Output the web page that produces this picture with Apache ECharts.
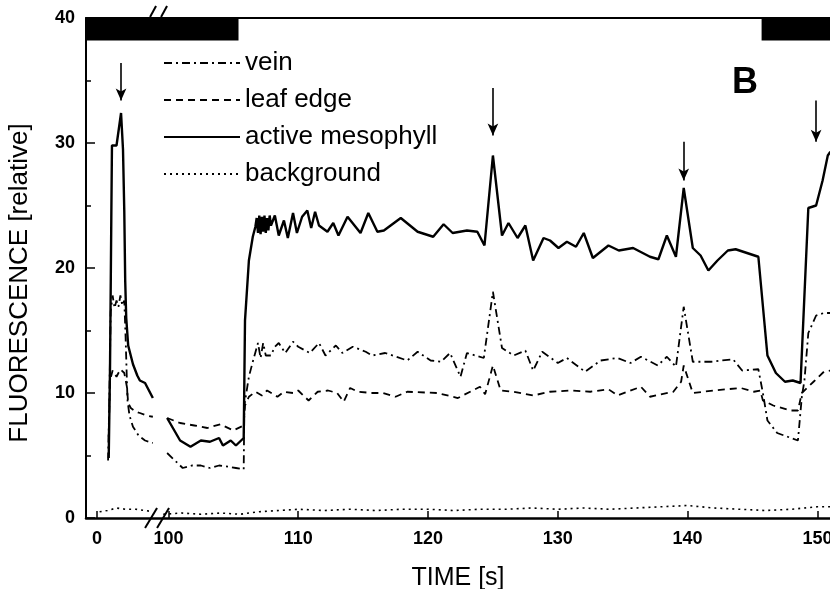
<!DOCTYPE html>
<html>
<head>
<meta charset="utf-8">
<script src="https://cdn.jsdelivr.net/npm/echarts@6/dist/echarts.min.js"></script>
<style>
  html, body { margin: 0; background: #fff; }
  #chart { width: 830px; height: 589px; }
</style>
</head>
<body>
<div id="chart"></div>
<script>
// [time s, fluorescence] - block A is the first seconds, block B is 100-151 s (axis is broken between)
const veinA = [[0.85,4.6],[0.95,9.5],[1.05,16.5],[1.2,17.8],[1.35,16.8],[1.5,17.4],[1.65,16.9],[1.8,17.8],[1.95,17.0],[2.1,17.4],[2.2,14.5],[2.3,11.0],[2.35,9.4],[2.5,8.2],[2.77,7.3],[3.2,6.6],[3.7,6.2],[4.3,6.0]];
const leafA = [[0.9,6.5],[1.0,11.0],[1.2,11.8],[1.5,11.3],[1.8,11.9],[2.1,11.6],[2.3,10.5],[2.4,9.2],[2.6,8.8],[3.0,8.5],[3.3,8.4],[3.8,8.2],[4.3,8.1]];
const activeA = [[0.9,4.8],[1.0,12.0],[1.1,24.0],[1.15,29.8],[1.5,29.8],[1.85,32.4],[2.0,29.5],[2.1,24.5],[2.17,19.0],[2.25,16.0],[2.4,13.8],[2.77,12.3],[3.1,11.4],[3.3,11.0],[3.7,10.8],[4.0,10.2],[4.3,9.6]];
const bgA = [[0.2,0.5],[0.8,0.6],[1.5,0.8],[2.2,0.7],[3.0,0.7],[3.7,0.6],[4.3,0.5]];

const activeB = [[99.9,8.0],[100.9,6.2],[101.7,5.7],[102.5,6.2],[103.2,6.1],[103.9,6.4],[104.2,5.8],[104.8,6.2],[105.2,5.8],[105.8,6.4],[105.9,15.8],[106.2,20.6],[106.5,22.5],[106.7,23.3],[106.8,24.0],[106.9,22.8],[107.0,24.2],[107.1,22.7],[107.2,24.1],[107.3,22.9],[107.4,24.2],[107.5,22.8],[107.6,24.0],[107.7,23.0],[107.8,24.2],[107.9,23.4],[108.2,24.2],[108.5,22.6],[108.9,23.8],[109.2,22.4],[109.6,24.4],[109.9,22.8],[110.3,24.1],[110.7,24.6],[111.0,23.2],[111.3,24.5],[111.6,23.4],[112.25,22.9],[112.7,23.6],[113.1,22.6],[113.8,24.1],[114.8,22.8],[115.4,24.4],[116.1,22.9],[116.6,23.0],[117.9,24.0],[119.2,22.9],[120.4,22.5],[121.2,23.5],[121.9,22.8],[123.0,23.0],[123.8,22.9],[124.35,21.8],[125.0,29.0],[125.7,22.6],[126.2,23.6],[126.9,22.4],[127.5,23.4],[128.1,20.6],[128.9,22.4],[129.4,22.2],[130.05,21.6],[130.7,22.1],[131.4,21.7],[132.0,22.8],[132.7,20.8],[133.9,21.8],[134.7,21.4],[135.8,21.6],[137.1,20.9],[137.75,20.7],[138.4,22.6],[139.1,20.9],[139.7,26.4],[140.4,21.6],[141.0,21.0],[141.6,19.8],[142.3,20.6],[143.1,21.4],[143.7,21.5],[145.45,20.9],[146.15,13.0],[146.8,11.6],[147.5,10.9],[148.1,11.0],[148.7,10.8],[149.3,24.8],[149.9,25.0],[150.4,27.0],[150.8,29.0],[151,29.3]];
const veinB = [[99.9,5.2],[100.5,4.6],[101.1,4.0],[101.8,4.2],[102.5,4.2],[103.2,4.0],[103.9,4.2],[104.6,4.1],[105.2,4.0],[105.8,3.9],[105.85,9.0],[106.2,11.3],[106.5,12.5],[106.9,14.0],[107.1,12.8],[107.3,14.0],[107.5,13.0],[107.9,13.0],[108.2,13.7],[108.5,14.0],[109.0,13.2],[109.6,14.1],[110.0,13.7],[110.9,13.2],[111.6,14.0],[112.1,13.0],[112.9,13.8],[113.4,13.2],[114.2,13.7],[115.2,13.3],[115.7,13.0],[116.7,13.2],[118.4,12.6],[119.2,13.3],[120.2,12.6],[121.0,12.5],[121.7,13.2],[122.5,11.3],[123.0,13.2],[124.3,12.8],[125.0,18.1],[125.7,13.6],[126.6,13.0],[127.5,13.4],[128.1,11.8],[128.8,13.3],[130.0,12.4],[130.7,12.8],[132.1,11.7],[133.3,12.6],[134.6,12.8],[135.6,12.4],[136.4,12.9],[137.7,12.2],[138.4,12.9],[139.1,12.1],[139.7,16.9],[140.4,12.5],[141.8,12.5],[143.5,12.7],[144.2,11.8],[145.45,11.9],[145.8,10.0],[146.15,7.8],[146.9,6.8],[147.7,6.5],[148.5,6.2],[148.8,9.7],[149.0,11.0],[149.3,14.8],[149.9,16.2],[150.5,16.4],[151,16.4]];
const leafB = [[99.9,8.0],[100.9,7.6],[102.0,7.4],[103.0,7.2],[104.0,7.5],[105.0,7.0],[105.8,7.4],[105.9,9.0],[106.2,9.7],[106.7,10.1],[107.2,9.8],[107.6,10.2],[108.4,9.7],[108.9,10.1],[109.6,10.0],[110.0,10.2],[110.8,9.4],[111.5,10.1],[112.3,10.2],[113.0,10.0],[113.5,9.3],[114.0,10.4],[114.6,10.1],[115.7,10.0],[116.5,10.0],[117.5,9.7],[118.4,10.1],[120.7,10.0],[122.3,9.6],[124.0,10.5],[124.4,9.9],[125.0,12.2],[125.6,10.2],[126.6,10.1],[128.1,9.8],[129.4,10.1],[131.0,10.2],[132.5,10.1],[133.9,10.3],[134.6,9.8],[136.4,10.5],[137.1,9.7],[138.9,10.1],[139.5,10.9],[139.7,12.2],[140.4,10.0],[142.0,10.2],[144.1,10.4],[145.1,10.1],[145.6,10.2],[145.8,9.4],[146.6,9.0],[147.9,8.6],[148.5,8.6],[148.8,10.0],[149.7,10.9],[150.5,11.7],[151,11.8]];
const bgB = [[99.6,0.3],[101,0.4],[102.5,0.3],[104,0.4],[105.5,0.3],[107,0.5],[108.5,0.6],[110,0.7],[112,0.6],[114,0.7],[116,0.6],[118,0.7],[120,0.7],[122,0.6],[124,0.7],[126,0.7],[128,0.8],[130,0.7],[132,0.8],[134,0.7],[136,0.8],[138,0.9],[140,1.0],[142,0.8],[144,0.7],[146,0.6],[148,0.7],[150,0.9],[151,0.9]];

const xTicks = [0, 100, 110, 120, 130, 140, 150];
const arrowTimes = [1.85, 125, 139.7, 149.9];
const arrowFrom = [36.4, 34.4, 30.1, 33.4];
const arrowTo = [33.4, 30.6, 27.0, 30.1];
const darkPeriods = [[-0.85, 105.4], [145.7, 151]];

// the axis break: 94.5 s are cut out, so 100 s sits 5.5 units after 0
const SHIFT = 94.5;
const toX = t => (t < 50 ? t : t - SHIFT);
const xMin = -0.85, xMax = 56.47;

const dashDot = [8, 4, 2, 4];

function line(name, data, type, width) {
  return {
    name: name,
    type: 'line',
    data: data.map(p => [toX(p[0]), p[1]]),
    symbol: 'none',
    silent: true,
    animation: false,
    itemStyle: { color: '#000' },
    lineStyle: { color: '#000', width: width, type: type }
  };
}

const chart = echarts.init(document.getElementById('chart'));

const series = [
  line('vein', veinA, dashDot, 1.8),
  line('leaf edge', leafA, [7, 5], 1.8),
  line('active mesophyll', activeA, 'solid', 2.4),
  line('background', bgA, [2, 4], 1.6),
  line('vein', veinB, dashDot, 1.8),
  line('leaf edge', leafB, [7, 5], 1.8),
  line('active mesophyll', activeB, 'solid', 2.4),
  line('background', bgB, [2, 4], 1.6)
];

series[0].markLine = {
  silent: true,
  symbol: ['none', 'arrow'],
  symbolSize: [8, 12],
  label: { show: false },
  lineStyle: { color: '#000', width: 1.6, type: 'solid' },
  data: arrowTimes.map((t, i) => [
    { coord: [toX(t), arrowFrom[i]] },
    { coord: [toX(t), arrowTo[i]] }
  ])
};
series[0].markArea = {
  silent: true,
  itemStyle: { color: '#000' },
  data: darkPeriods.map(p => [
    { coord: [toX(p[0]), 38.2] },
    { coord: [toX(p[1]), 40.2] }
  ])
};

const font = 'Liberation Sans, Arial, sans-serif';

chart.setOption({
  animation: false,
  grid: { left: 86, right: 0, top: 18, bottom: 71, outerBoundsMode: 'none' },
  legend: {
    data: ['vein', 'leaf edge', 'active mesophyll', 'background'],
    orient: 'vertical',
    left: 158,
    top: 45,
    itemWidth: 76,
    itemHeight: 14,
    itemGap: 11,
    selectedMode: false,
    itemStyle: { opacity: 0 },
    textStyle: { fontFamily: font, fontSize: 26, color: '#000' }
  },
  xAxis: [{
    type: 'value',
    min: xMin,
    max: xMax,
    name: 'TIME [s]',
    nameLocation: 'middle',
    nameGap: 48,
    nameTextStyle: { fontFamily: font, fontSize: 25, color: '#000' },
    splitLine: { show: false },
    axisLine: { onZero: false, lineStyle: { color: '#000', width: 2.5 } },
    axisTick: {
      inside: true, length: 7, customValues: xTicks.map(toX),
      lineStyle: { color: '#000', width: 1.5 }
    },
    minorTick: { show: false },
    axisLabel: {
      customValues: xTicks.map(toX),
      formatter: v => String(Math.round(v < 5 ? v : v + SHIFT)),
      fontFamily: font, fontSize: 18, fontWeight: 'bold', color: '#000', margin: 12
    }
  }, {
    type: 'value',
    position: 'top',
    min: xMin,
    max: xMax,
    axisLine: { onZero: false, lineStyle: { color: '#000', width: 2 } },
    axisTick: { show: false },
    axisLabel: { show: false },
    splitLine: { show: false }
  }],
  yAxis: {
    type: 'value',
    min: 0,
    max: 40,
    interval: 10,
    name: 'FLUORESCENCE [relative]',
    nameLocation: 'middle',
    nameGap: 53,
    nameTextStyle: { fontFamily: font, fontSize: 26, color: '#000', padding: [0, 30, 0, 0] },
    splitLine: { show: false },
    axisLine: { onZero: false, lineStyle: { color: '#000', width: 2 } },
    axisTick: { inside: true, length: 9, lineStyle: { color: '#000', width: 1.5 } },
    minorTick: { show: true, splitNumber: 2, length: 5, lineStyle: { color: '#000', width: 1.5 } },
    axisLabel: { fontFamily: font, fontSize: 18, fontWeight: 'bold', color: '#000', margin: 11 }
  },
  series: series
});

// break marks on the time axis and the panel letter
const gapX = (toX(4.3) + toX(99.6)) / 2;
const botPt = chart.convertToPixel({ gridIndex: 0 }, [gapX, 0]);
const topPt = chart.convertToPixel({ gridIndex: 0 }, [gapX, 40]);
const slash = (x1, y1, x2, y2) => ({
  type: 'line', silent: true,
  shape: { x1: x1, y1: y1, x2: x2, y2: y2 },
  style: { stroke: '#000', lineWidth: 2 }
});
chart.setOption({
  graphic: [
    { type: 'rect', silent: true, shape: { x: botPt[0] - 7, y: botPt[1] - 3, width: 13, height: 6 }, style: { fill: '#fff' } },
    slash(botPt[0] - 13, botPt[1] + 10, botPt[0] - 1, botPt[1] - 10),
    slash(botPt[0] - 1, botPt[1] + 10, botPt[0] + 11, botPt[1] - 10),
    slash(topPt[0] - 8, topPt[1] - 1, topPt[0] - 2, topPt[1] - 12),
    slash(topPt[0] + 3, topPt[1] - 1, topPt[0] + 9, topPt[1] - 12),
    {
      type: 'text', silent: true, left: 732, top: 65,
      style: { text: 'B', fontFamily: font, fontSize: 36, fontWeight: 'bold', fill: '#000' }
    }
  ]
});
</script>
</body>
</html>
